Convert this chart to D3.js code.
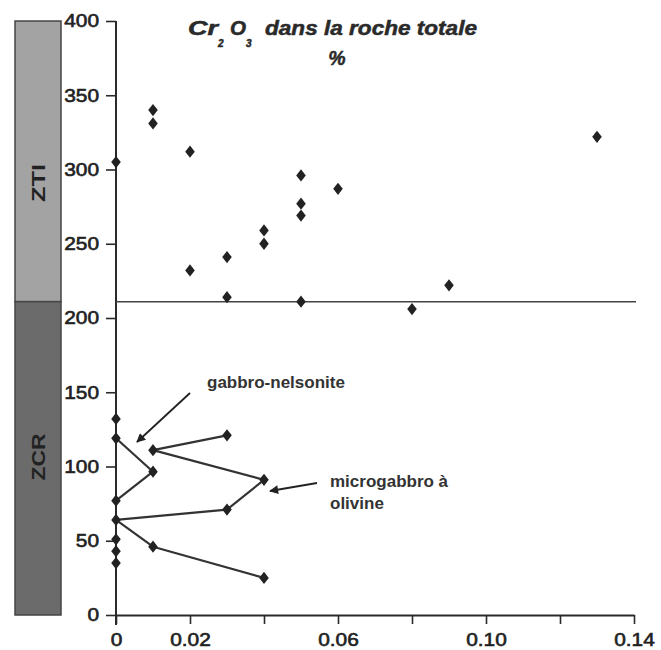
<!DOCTYPE html>
<html><head><meta charset="utf-8">
<script src="https://cdn.jsdelivr.net/npm/d3@7"></script>
<style>body{margin:0;background:#fff}svg{display:block}</style>
</head><body>
<script>
// ---- data ----
const ztiX = [0, 0.01, 0.01, 0.02, 0.02, 0.03, 0.03, 0.04, 0.04, 0.05, 0.05, 0.05, 0.05, 0.06, 0.08, 0.09, 0.13];
const ztiY = [305, 340, 331, 312, 232, 241, 214, 259, 250, 296, 277, 269, 211, 287, 206, 222, 322];
const zcrX = [0, 0, 0, 0, 0, 0, 0, 0.01, 0.01, 0.03, 0.04, 0.03, 0.01, 0.04];
const zcrY = [132, 119, 77, 64, 51, 43, 35, 96.5, 111, 121, 91, 71, 46, 25];
const gabbroX = [0, 0.01, 0];
const gabbroY = [119, 96.5, 77];
const microX = [0.03, 0.01, 0.04, 0.03, 0, 0.01, 0.04];
const microY = [121, 111, 91, 71, 64, 46, 25];
const boundary = 211;
const yTicks = [0, 50, 100, 150, 200, 250, 300, 350, 400];
const xTicks = [0, 0.02, 0.04, 0.06, 0.08, 0.10, 0.12, 0.14];
const xLabels = ["0", "0.02", "", "0.06", "", "0.10", "", "0.14"];
const zones = [{name: "ZTI", from: 400, to: 211, len: 38}, {name: "ZCR", from: 211, to: 0, len: 47}];

const W = 661, H = 650;
const svg = d3.select("body").append("svg").attr("width", W).attr("height", H);
const x = d3.scaleLinear().domain([0, 0.14]).range([116, 634]);
const y = d3.scaleLinear().domain([0, 400]).range([615, 21]);
const font = "'Liberation Sans', Arial, Helvetica, sans-serif";
const ink = "#2a2a2a";

// zone bar
const zoneFill = {ZTI: "#a3a3a3", ZCR: "#6b6b6b"};
svg.selectAll("rect.zone").data(zones).enter().append("rect")
  .attr("x", 15).attr("width", 46)
  .attr("y", d => y(d.from)).attr("height", d => y(d.to) - y(d.from))
  .attr("fill", d => zoneFill[d.name]).attr("stroke", "#454545").attr("stroke-width", 1.5);
const zoneCenters = {ZTI: 183, ZCR: 457};
svg.selectAll("text.zone").data(zones).enter().append("text")
  .attr("transform", d => `translate(45,${zoneCenters[d.name]}) rotate(-90)`)
  .attr("text-anchor", "middle").attr("font-family", font).attr("font-weight", "bold")
  .attr("font-size", 18).attr("fill", "#222")
  .attr("textLength", d => d.len).attr("lengthAdjust", "spacingAndGlyphs").text(d => d.name);

// axes
const yAxis = svg.append("g").attr("transform", `translate(116,0)`)
  .call(d3.axisLeft(y).tickValues(yTicks).tickSize(10).tickPadding(5).tickSizeOuter(0));
const xAxis = svg.append("g").attr("transform", `translate(0,615)`)
  .call(d3.axisBottom(x).tickValues(xTicks).tickSize(9).tickPadding(6).tickSizeOuter(0)
    .tickFormat((d, i) => xLabels[i]));
[yAxis, xAxis].forEach(g => {
  g.attr("font-size", null).attr("font-family", null);
  g.select(".domain").attr("stroke", ink).attr("stroke-width", 2);
  g.selectAll(".tick line").attr("stroke", ink).attr("stroke-width", 1.6);
  g.selectAll(".tick text")
    .style("font-family", font).style("font-size", "18.5px")
    .style("fill", "#222").style("stroke", "#222").style("stroke-width", "0.6px")
    .attr("transform", "scale(1.13,1)");
});
xAxis.selectAll(".tick text").attr("dy", "0.85em");
yAxis.select(".domain").attr("d", `M0,${y(400)}V${y(0) + 10}`);

// boundary line
svg.append("line").attr("x1", x(0)).attr("x2", 636)
  .attr("y1", y(boundary)).attr("y2", y(boundary))
  .attr("stroke", "#444").attr("stroke-width", 1.5);

// lines
const line = d3.line().x(d => x(d[0])).y(d => y(d[1]));
[[gabbroX, gabbroY], [microX, microY]].forEach(([xs, ys]) => {
  svg.append("path").attr("d", line(xs.map((v, i) => [v, ys[i]])))
    .attr("fill", "none").attr("stroke", "#333").attr("stroke-width", 2.2)
    .attr("stroke-linejoin", "round");
});

// points
const pts = ztiX.map((v, i) => [v, ztiY[i]]).concat(zcrX.map((v, i) => [v, zcrY[i]]));
svg.selectAll("path.pt").data(pts).enter().append("path")
  .attr("d", d3.symbol().type(d3.symbolDiamond).size(60))
  .attr("transform", d => `translate(${x(d[0])},${y(d[1])}) scale(1.15,0.85)`)
  .attr("fill", "#222");

// title
const tfont = sel => sel.attr("font-family", font).attr("font-weight", "bold")
  .attr("font-style", "italic").attr("fill", "#2a2a2a")
  .attr("stroke", "#2a2a2a").attr("stroke-width", 0.5);
const titleParts = [
  {t: "Cr", x: 188, y: 35, fs: 19.5, len: 30},
  {t: "2", x: 218, y: 47, fs: 10, len: null},
  {t: "O", x: 230, y: 35, fs: 19.5, len: 16},
  {t: "3", x: 246, y: 47, fs: 10, len: null},
  {t: "dans la roche totale", x: 265, y: 35, fs: 19.5, len: 212}
];
titleParts.forEach(p => {
  const t = svg.append("text").attr("x", p.x).attr("y", p.y).attr("font-size", p.fs).call(tfont).text(p.t);
  if (p.len) t.attr("textLength", p.len).attr("lengthAdjust", "spacingAndGlyphs");
});
svg.append("text").attr("x", 337).attr("y", 65).attr("text-anchor", "middle")
  .attr("font-size", 19.5).call(tfont).text("%");

// annotations
const defs = svg.append("defs");
defs.append("marker").attr("id", "ah").attr("viewBox", "0 0 10 10").attr("refX", 9).attr("refY", 5)
  .attr("markerWidth", 7).attr("markerHeight", 5).attr("orient", "auto")
  .attr("markerUnits", "strokeWidth")
  .append("path").attr("d", "M0,0L10,5L0,10Z").attr("fill", "#222");
const ann = [
  {x1: 190, y1: 393, x2: 137, y2: 442},
  {x1: 317, y1: 483, x2: 270, y2: 491}
];
svg.selectAll("line.ann").data(ann).enter().append("line")
  .attr("x1", d => d.x1).attr("y1", d => d.y1).attr("x2", d => d.x2).attr("y2", d => d.y2)
  .attr("stroke", "#222").attr("stroke-width", 1.8).attr("marker-end", "url(#ah)");
const labels = [
  {t: "gabbro-nelsonite", x: 207, y: 388},
  {t: "microgabbro à", x: 330, y: 487},
  {t: "olivine", x: 330, y: 509}
];
svg.selectAll("text.lab").data(labels).enter().append("text")
  .attr("x", d => d.x).attr("y", d => d.y).attr("font-family", font)
  .attr("font-weight", "bold").attr("font-size", 17).attr("fill", "#333").text(d => d.t);
</script>
</body></html>
